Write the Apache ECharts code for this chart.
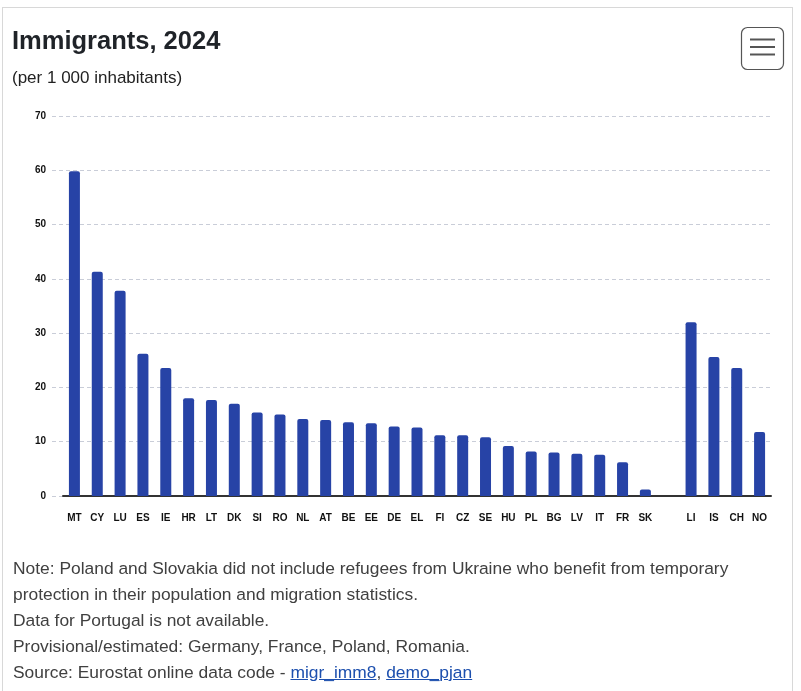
<!DOCTYPE html>
<html>
<head>
<meta charset="utf-8">
<script src="https://cdn.jsdelivr.net/npm/echarts@6/dist/echarts.min.js"></script>
<style>
html,body{margin:0;padding:0;background:#fff;}
#wrap{position:relative;width:801px;height:691px;overflow:hidden;}
#frame{position:absolute;left:2px;top:7px;width:791px;height:700px;border:1px solid #d8d8d8;box-sizing:border-box;}
#chart{position:absolute;left:0;top:0;width:801px;height:691px;}
#notes{position:absolute;left:13px;top:555px;font-family:"Liberation Sans",Arial,sans-serif;font-size:17.4px;line-height:26px;color:#404040;white-space:nowrap;}
#notes a{color:#1c4fae;text-decoration:underline;}
</style>
</head>
<body>
<div id="wrap">
<div id="frame"></div>
<div id="chart"></div>
<div id="notes">
Note: Poland and Slovakia did not include refugees from Ukraine who benefit from temporary<br>
protection in their population and migration statistics.<br>
Data for Portugal is not available.<br>
Provisional/estimated: Germany, France, Poland, Romania.<br>
Source: Eurostat online data code - <a>migr_imm8</a>, <a>demo_pjan</a>
</div>
</div>
<script>
const categories = ['MT','CY','LU','ES','IE','HR','LT','DK','SI','RO','NL','AT','BE','EE','DE','EL','FI','CZ','SE','HU','PL','BG','LV','IT','FR','SK','','LI','IS','CH','NO'];
const immigrants = [59.8,41.3,37.8,26.2,23.6,18.0,17.7,17.0,15.4,15.0,14.2,14.0,13.6,13.4,12.8,12.6,11.2,11.2,10.8,9.2,8.2,8.0,7.8,7.6,6.2,1.2,null,32.0,25.6,23.6,11.8];
const yTicks = {min:0, max:70, interval:10};

const chart = echarts.init(document.getElementById('chart'), null, {renderer:'canvas'});
const font = '"Liberation Sans", Arial, sans-serif';
chart.setOption({
  animation:false,
  title:[
    {text:'Immigrants, 2024',left:12,top:29,padding:0,
     textStyle:{fontFamily:font,fontSize:25.5,fontWeight:'bold',color:'#1f2328'}},
    {text:'(per 1 000 inhabitants)',left:12,top:70,padding:0,
     textStyle:{fontFamily:font,fontSize:17,fontWeight:'normal',color:'#222'}}
  ],
  grid:[
    {left:52,right:30,top:116,bottom:195},
    {left:63,right:30,top:116,bottom:195}
  ],
  xAxis:[
    {gridIndex:0,type:'category',data:categories,show:false},
    {gridIndex:1,type:'category',data:categories,
     axisLine:{lineStyle:{color:'#333',width:2}},
     axisTick:{alignWithLabel:true,length:6,lineStyle:{color:'#c5d2ee'}},
     axisLabel:{interval:0,margin:17,fontFamily:font,fontSize:10,fontWeight:'bold',color:'#111'}}
  ],
  yAxis:[
    {gridIndex:0,type:'value',min:yTicks.min,max:yTicks.max,interval:yTicks.interval,
     axisLine:{show:false},axisTick:{show:false},
     axisLabel:{margin:6,fontFamily:font,fontSize:10,fontWeight:'bold',color:'#111'},
     splitLine:{lineStyle:{type:[4,3],color:'#c9cdd8',width:1}}},
    {gridIndex:1,type:'value',min:yTicks.min,max:yTicks.max,interval:yTicks.interval,show:false,splitLine:{show:false}}
  ],
  series:[{
    type:'bar',xAxisIndex:1,yAxisIndex:1,data:immigrants,barWidth:11,
    itemStyle:{color:'#2743a6',borderRadius:[2,2,0,0]}
  }],
  graphic:[
    {type:'rect',shape:{x:741.5,y:27.5,width:42,height:42,r:6},style:{fill:'#fff',stroke:'#555',lineWidth:1.2}},
    {type:'line',shape:{x1:750,y1:39.5,x2:775,y2:39.5},style:{stroke:'#555',lineWidth:2}},
    {type:'line',shape:{x1:750,y1:47,x2:775,y2:47},style:{stroke:'#555',lineWidth:2}},
    {type:'line',shape:{x1:750,y1:54.5,x2:775,y2:54.5},style:{stroke:'#555',lineWidth:2}}
  ]
});
</script>
</body>
</html>
